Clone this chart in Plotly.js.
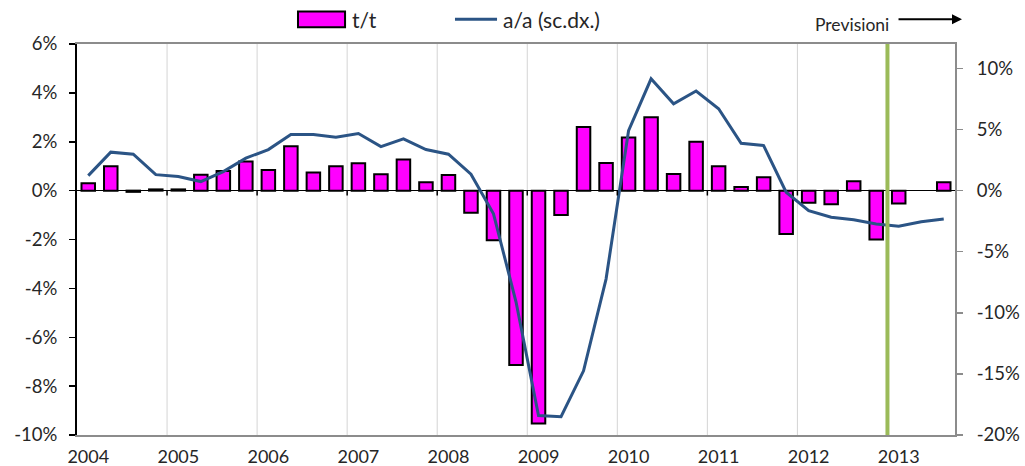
<!DOCTYPE html>
<html>
<head>
<meta charset="utf-8">
<script src="https://cdn.plot.ly/plotly-3.0.1.min.js"></script>
<style>html,body{margin:0;padding:0;background:#fff;}#chart{width:1025px;height:466px;}</style>
</head>
<body>
<div id="chart"></div>
<script>
// Quarterly data, 2004 Q1 - 2013 Q3
const years = ['2004','2005','2006','2007','2008','2009','2010','2011','2012','2013'];
const quartersPerYear = 4;
// t/t (quarter on quarter, %), left axis
const tt = [0.30, 1.00, -0.05, 0.05, 0.05, 0.65, 0.80, 1.19, 0.84, 1.82, 0.74, 1.00,
            1.12, 0.67, 1.27, 0.34, 0.64, -0.91, -2.03, -7.14, -9.53, -1.00, 2.60, 1.13,
            2.17, 3.00, 0.68, 2.00, 1.00, 0.15, 0.55, -1.78, -0.50, -0.56, 0.38, -2.00,
            -0.53, null, 0.34];
// a/a (year on year, %), right axis
const aa = [1.23, 3.15, 2.98, 1.31, 1.15, 0.74, 1.56, 2.66, 3.36, 4.59, 4.59, 4.37,
            4.67, 3.60, 4.24, 3.36, 2.98, 1.34, -1.90, -9.10, -18.40, -18.50, -14.75, -7.24,
            4.90, 9.15, 7.10, 8.15, 6.70, 3.88, 3.69, -0.13, -1.64, -2.18, -2.38, -2.73,
            -2.92, -2.54, -2.32];
// axis tick values / labels
const leftTicks = [-10, -8, -6, -4, -2, 0, 2, 4, 6];
const leftTickText = ['-10%', '-8%', '-6%', '-4%', '-2%', '0%', '2%', '4%', '6%'];
const rightTicks = [-20, -15, -10, -5, 0, 5, 10];
const rightTickText = ['-20%', '-15%', '-10%', '-5%', '0%', '5%', '10%'];
const forecastStartYear = '2013';
const legendBar = 't/t';
const legendLine = 'a/a (sc.dx.)';
const forecastLabel = 'Previsioni';

const xq = tt.map((_, i) => i);
const yearStart = years.map((_, k) => k * quartersPerYear);
const yearBounds = years.slice(1).map((_, k) => (k + 1) * quartersPerYear - 0.5);
const forecastX = years.indexOf(forecastStartYear) * quartersPerYear - 0.5;

const FONT = 'Lato, "Open Sans", sans-serif';
const TXT = '#262626';

const shapes = [];
yearBounds.forEach(b => {
  shapes.push({type:'line', xref:'x', yref:'paper', x0:b, x1:b, y0:0, y1:1,
               line:{color:'#d4d4d4', width:1}, layer:'below'});
  shapes.push({type:'line', xref:'x', yref:'y', x0:b, x1:b, y0:0, y1:-0.2,
               line:{color:'#000', width:1.5}, layer:'above'});
});
shapes.push({type:'line', xref:'x', yref:'paper', x0:forecastX, x1:forecastX, y0:0, y1:1,
             line:{color:'#9BBB59', width:4}, layer:'above'});
// custom legend symbols
shapes.push({type:'rect', xref:'paper', yref:'paper', x0:0.2517, x1:0.3053, y0:1.043, y1:1.083,
             fillcolor:'#FF00FF', line:{color:'#000', width:2}});
shapes.push({type:'line', xref:'paper', yref:'paper', x0:0.4305, x1:0.4784, y0:1.0635, y1:1.0635,
             line:{color:'#2B5485', width:3}});

const traces = [
  {type:'bar', x:xq, y:tt, name:legendBar, width:0.6,
   marker:{color:'#FF00FF', line:{color:'#000', width:2}}, yaxis:'y', showlegend:false},
  {type:'scatter', mode:'lines', x:xq, y:aa, name:legendLine, yaxis:'y2',
   line:{color:'#2B5485', width:3}, showlegend:false}
];

const layout = {
  width:1025, height:466,
  margin:{l:77, r:70, t:44, b:31},
  paper_bgcolor:'#fff', plot_bgcolor:'#fff',
  font:{family:FONT, size:18, color:TXT},
  showlegend:false,
  xaxis:{range:[-0.5, tt.length - 0.5], tickvals:yearStart, ticktext:years, ticks:'',
         showgrid:false, zeroline:false, showline:true, mirror:true,
         linecolor:'#8c8c8c', linewidth:2, tickfont:{family:FONT, size:18, color:TXT},
         ticklabelstandoff:4, fixedrange:true},
  yaxis:{range:[-10, 6], tickvals:leftTicks, ticktext:leftTickText, showgrid:false,
         zeroline:true, zerolinecolor:'#000', zerolinewidth:1.5,
         showline:true, linecolor:'#000', linewidth:2, ticks:'outside', ticklen:6,
         tickcolor:'#000', tickwidth:1.5, tickfont:{family:FONT, size:18.5, color:TXT},
         ticklabelstandoff:8, fixedrange:true},
  yaxis2:{range:[-20, 12], tickvals:rightTicks, ticktext:rightTickText, overlaying:'y', side:'right',
          showgrid:false, zeroline:false, showline:true, linecolor:'#8c8c8c', linewidth:2,
          ticks:'outside', ticklen:6, tickcolor:'#8c8c8c', tickwidth:1.5,
          tickfont:{family:FONT, size:18.5, color:TXT}, ticklabelstandoff:10, fixedrange:true},
  shapes:shapes,
  annotations:[
    {xref:'paper', yref:'paper', x:0.311, y:1.0635, text:legendBar, showarrow:false,
     xanchor:'left', yanchor:'middle', font:{family:FONT, size:21, color:TXT}},
    {xref:'paper', yref:'paper', x:0.483, y:1.0635, text:legendLine, showarrow:false,
     xanchor:'left', yanchor:'middle', font:{family:FONT, size:21, color:TXT}},
    {xref:'paper', yref:'paper', x:0.838, y:1.05, text:forecastLabel, showarrow:false,
     xanchor:'left', yanchor:'middle', font:{family:FONT, size:17.5, color:TXT}},
    {xref:'paper', yref:'paper', x:1.008, y:1.0635, ax:-65, ay:0, text:'', showarrow:true,
     arrowhead:2, arrowsize:1, arrowwidth:2, arrowcolor:'#000'}
  ]
};

Plotly.newPlot('chart', traces, layout, {displayModeBar:false, staticPlot:true});
</script>
</body>
</html>
